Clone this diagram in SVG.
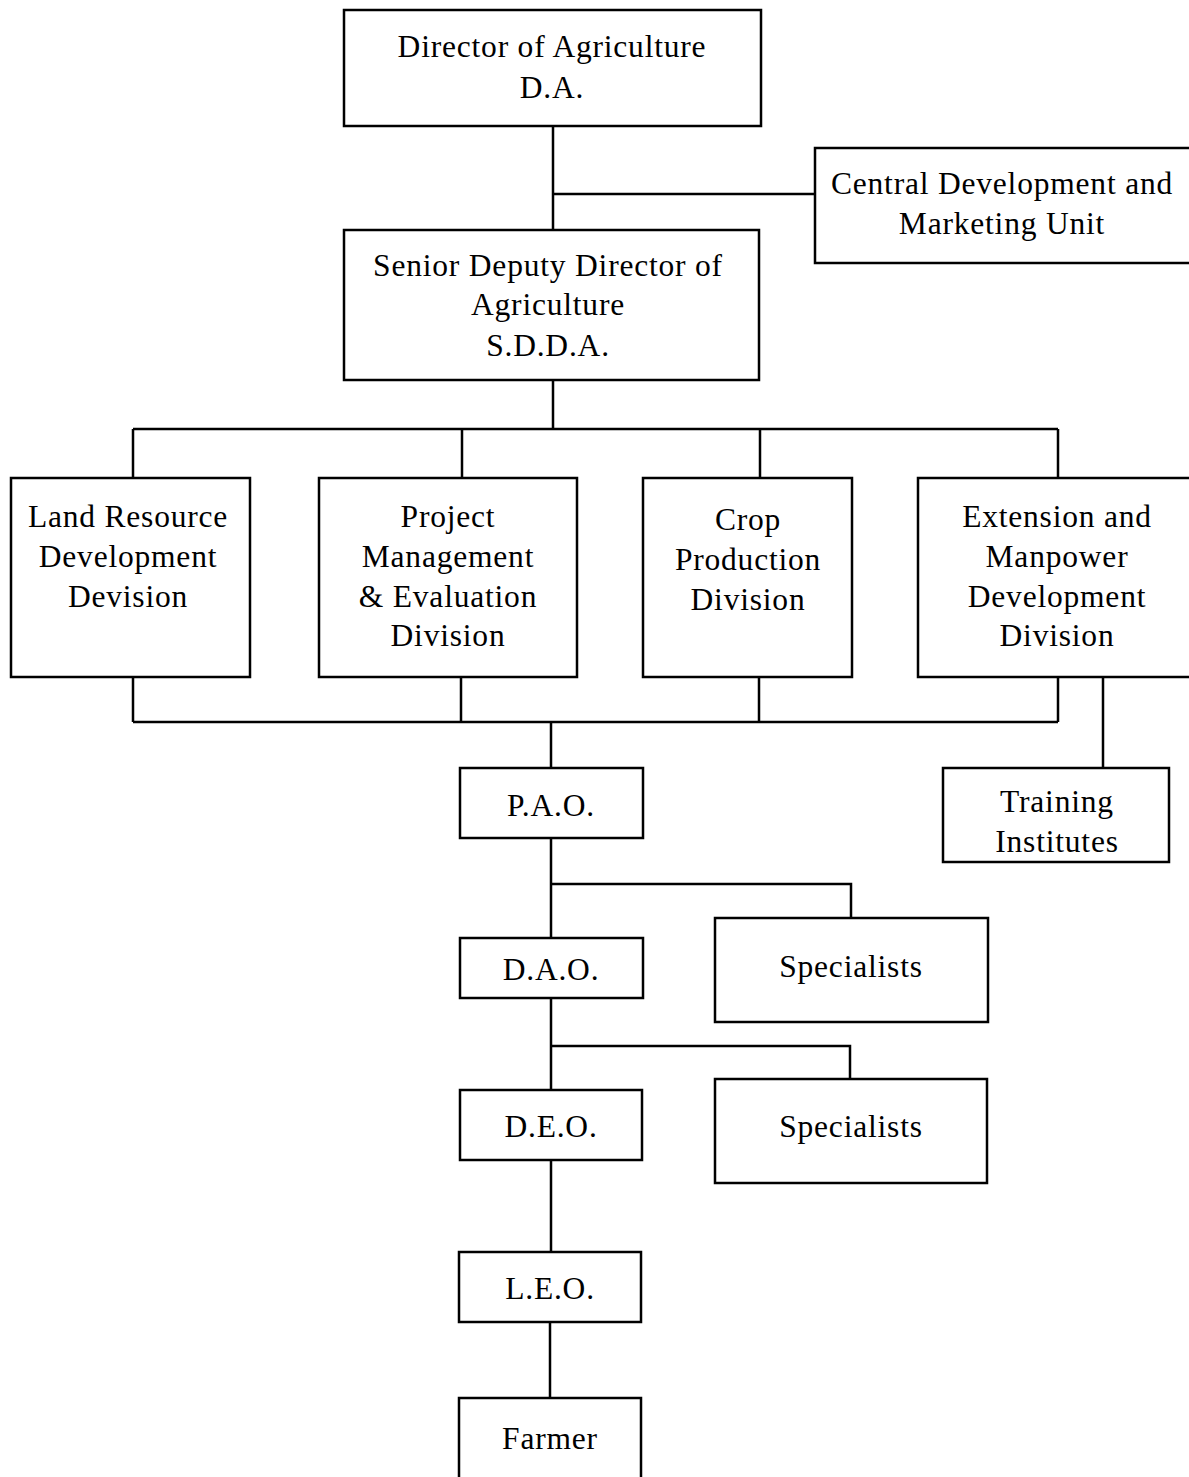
<svg xmlns="http://www.w3.org/2000/svg" width="1189" height="1477" viewBox="0 0 1189 1477">
<style>
.box{fill:#fff;stroke:#000;stroke-width:2.5}
.ln{fill:none;stroke:#000;stroke-width:2.5}
text{font-family:"Liberation Serif","DejaVu Serif",serif;font-size:31.5px;letter-spacing:0.8px;fill:#000;text-anchor:middle}
</style>
<rect width="1189" height="1477" fill="#fff"/>
<g id="connectors">
<path class="ln" d="M553 126V230M553 194H815M553 380V429M133 429H1058M133 429V478M462 429V478M760 429V478M1058 429V478"/>
<path class="ln" d="M133 677V722M461 677V722M759 677V722M1058 677V722M133 722H1058M551 722V768M1103 677V768"/>
<path class="ln" d="M551 838V938M551 884H851V918M551 998V1090M551 1046H850V1079M551 1160V1252M550 1322V1398"/>
</g>
<g id="da"><rect class="box" x="344" y="10" width="417" height="116"/><text x="552" y="57">Director of Agriculture</text><text x="552" y="98">D.A.</text></g>
<g id="central"><rect class="box" x="815" y="148" width="380" height="115"/><text x="1002" y="194">Central Development and</text><text x="1002" y="234">Marketing Unit</text></g>
<g id="sdda"><rect class="box" x="344" y="230" width="415" height="150"/><text x="548" y="276">Senior Deputy Director of</text><text x="548" y="315">Agriculture</text><text x="548" y="356">S.D.D.A.</text></g>
<g id="land"><rect class="box" x="11" y="478" width="239" height="199"/><text x="128" y="527">Land Resource</text><text x="128" y="567">Development</text><text x="128" y="607">Devision</text></g>
<g id="project"><rect class="box" x="319" y="478" width="258" height="199"/><text x="448" y="527">Project</text><text x="448" y="567">Management</text><text x="448" y="607">&amp; Evaluation</text><text x="448" y="646">Division</text></g>
<g id="crop"><rect class="box" x="643" y="478" width="209" height="199"/><text x="748" y="530">Crop</text><text x="748" y="570">Production</text><text x="748" y="610">Division</text></g>
<g id="extension"><rect class="box" x="918" y="478" width="275" height="199"/><text x="1057" y="527">Extension and</text><text x="1057" y="567">Manpower</text><text x="1057" y="607">Development</text><text x="1057" y="646">Division</text></g>
<g id="training"><rect class="box" x="943" y="768" width="226" height="94"/><text x="1057" y="812">Training</text><text x="1057" y="852">Institutes</text></g>
<g id="pao"><rect class="box" x="460" y="768" width="183" height="70"/><text x="551" y="816">P.A.O.</text></g>
<g id="spec1"><rect class="box" x="715" y="918" width="273" height="104"/><text x="851" y="977">Specialists</text></g>
<g id="dao"><rect class="box" x="460" y="938" width="183" height="60"/><text x="551" y="980">D.A.O.</text></g>
<g id="spec2"><rect class="box" x="715" y="1079" width="272" height="104"/><text x="851" y="1137">Specialists</text></g>
<g id="deo"><rect class="box" x="460" y="1090" width="182" height="70"/><text x="551" y="1137">D.E.O.</text></g>
<g id="leo"><rect class="box" x="459" y="1252" width="182" height="70"/><text x="550" y="1299">L.E.O.</text></g>
<g id="farmer"><rect class="box" x="459" y="1398" width="182" height="90"/><text x="550" y="1449">Farmer</text></g>
</svg>
